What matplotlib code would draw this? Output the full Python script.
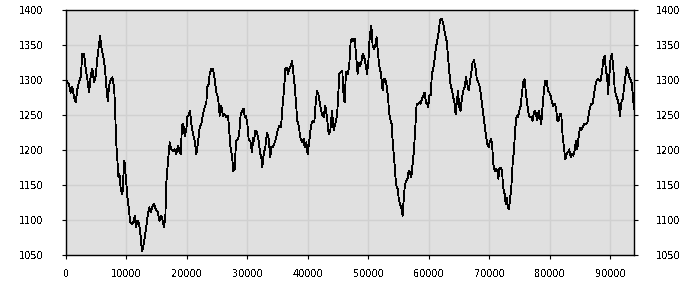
import numpy as np
import matplotlib
matplotlib.use("Agg")
import matplotlib.pyplot as plt

# values
x = [0, 220, 500, 770, 1050, 1320, 1600, 1880, 2150, 2430, 2700, 2980, 3260, 3530, 3810,
     4090, 4360, 4640, 4910, 5190, 5470, 5630, 5850, 6130, 6400, 6680, 6900, 7120, 7400,
     7670, 7950, 8110, 8280, 8500, 8670, 8830, 9050, 9330, 9490, 9660, 9880, 10160, 10430,
     10600, 10870, 11150, 11370, 11540, 11810, 12090, 12370, 12530, 12700, 12920, 13190,
     13470, 13750, 14020, 14300, 14570, 14850, 15130, 15400,
     15490, 15760, 16040, 16200, 16420, 16590, 16870, 17140, 17420, 17690, 17970, 18240,
     18520, 18790, 18960, 19180, 19400, 19620, 19900, 20060, 20340, 20500, 20720, 21000,
     21270, 21550, 21820, 22100, 22380, 22650, 22930, 23200, 23370, 23590, 23750, 24030,
     24300, 24580, 24860, 25130, 25410, 25680, 25960, 26230, 26510, 26780, 26950, 27170,
     27440, 27670, 27890, 28110, 28330, 28600, 28880, 29150, 29370, 29540, 29760, 29980,
     30200, 30480, 30750, 30970,
     31080, 31300, 31570, 31850, 32120, 32290, 32450, 32680, 32950, 33230, 33500, 33780,
     33940, 34160, 34440, 34710, 34990, 35260, 35540, 35820, 36040, 36260, 36530, 36700,
     36920, 37190, 37360, 37520, 37800, 38020, 38240, 38460, 38740, 39010, 39290, 39450,
     39730, 39950, 40220, 40500, 40770, 41050, 41220, 41490, 41770, 42040, 42320, 42590,
     42870, 43140, 43420, 43700, 43970, 44250, 44520, 44800, 44960, 45180, 45460, 45680,
     45900, 46060, 46280, 46500,
     46620, 46840, 47060, 47280, 47500, 47720, 47940, 48210, 48380, 48600, 48820, 49040,
     49320, 49590, 49760, 49980, 50140, 50310, 50470, 50690, 50910, 51130, 51350, 51570,
     51790, 52070, 52350, 52570, 52790, 53010, 53230, 53450, 53610, 53830, 54000, 54270,
     54550, 54830, 54990, 55210, 55430, 55650, 55820, 55980, 56200, 56480, 56640, 56860,
     57080, 57300, 57520, 57750, 57970, 58190, 58410, 58630, 58850, 59070, 59290, 59510,
     59730, 59890, 60060, 60280, 60500, 60720, 60940, 61160, 61380, 61600, 61820, 62040,
     62150, 62370, 62650, 62920, 63140, 63370, 63590, 63810, 64030, 64250, 64410, 64580,
     64800, 65020, 65240, 65460, 65680, 65900, 66120, 66340, 66560, 66780, 67000, 67220,
     67440, 67660, 67880, 68100, 68320, 68540, 68770, 68990, 69210, 69430, 69650, 69870,
     70090, 70310, 70470, 70640, 70860, 71080, 71300, 71470, 71630, 71850, 72070, 72290,
     72510, 72680, 72840, 73060, 73230, 73390, 73610, 73830, 74050, 74280, 74500, 74720,
     74940, 75160, 75380, 75600, 75820, 76040, 76260, 76480, 76700, 76920, 77140, 77360,
     77580,
     77690, 77910, 78130, 78350, 78570, 78790, 79010, 79230, 79450, 79670, 79900, 80120,
     80340, 80560, 80780, 81000, 81220, 81440, 81660, 81880, 82100, 82320, 82540, 82760,
     82980, 83200, 83420, 83640, 83860, 84080, 84300, 84520, 84740, 84960, 85180, 85400,
     85630, 85900, 86180, 86400, 86620, 86840, 87060, 87280, 87500, 87720, 87940, 88160,
     88380, 88600, 88820, 89040, 89260, 89480, 89590, 89810, 90030, 90250, 90470, 90690,
     90920, 91140, 91360, 91580, 91800, 92020, 92240, 92460, 92680, 92900, 93120, 93340,
     93560, 93730, 93900]

y = [1300, 1297, 1294, 1282, 1290, 1275, 1268, 1287, 1297, 1304, 1337, 1337, 1316, 1301, 1282,
     1306, 1316, 1297, 1306, 1332, 1351, 1363, 1347, 1335, 1320, 1290, 1270, 1292, 1301,
     1304, 1290, 1261, 1213, 1185, 1161, 1166, 1144, 1137, 1163, 1185, 1161, 1132, 1113,
     1097, 1094, 1097, 1106, 1090, 1099, 1094, 1075, 1056, 1059, 1070, 1085,
     1104, 1118, 1111, 1120, 1123, 1115, 1112, 1101,
     1099, 1106, 1097, 1090, 1104, 1154, 1185, 1211, 1201, 1199, 1201, 1194,
     1206, 1197, 1194, 1235, 1237, 1220, 1230, 1247, 1251, 1256, 1237, 1223,
     1213, 1194, 1211, 1232, 1237, 1251, 1261, 1268, 1290, 1294, 1309, 1316,
     1316, 1301, 1282, 1275, 1249, 1263, 1249, 1251, 1247, 1249, 1232, 1206,
     1192, 1170, 1173, 1213, 1215, 1220, 1251, 1256, 1259, 1247, 1249, 1237,
     1215, 1213, 1197, 1218,
     1213, 1228, 1225, 1213, 1194, 1190, 1175, 1194, 1204, 1225, 1216, 1190,
     1204, 1204, 1209, 1216, 1228, 1235, 1232, 1266, 1285, 1316, 1318, 1309,
     1316, 1320, 1328, 1316, 1292, 1266, 1242, 1235, 1218, 1211, 1216, 1204,
     1211, 1194, 1213, 1235, 1242, 1240, 1261, 1285, 1278, 1263, 1251, 1247,
     1263, 1247, 1223, 1228, 1256, 1228, 1237, 1249, 1270, 1309, 1311, 1313,
     1275, 1268, 1311, 1309,
     1309, 1323, 1356, 1359, 1356, 1359, 1337, 1309, 1325, 1320, 1325, 1337,
     1332, 1320, 1309, 1325, 1354, 1368, 1378, 1349, 1344, 1349, 1361, 1339,
     1320, 1309, 1285, 1301, 1301, 1292, 1275, 1251, 1244, 1237, 1213, 1185,
     1151, 1144, 1132, 1123, 1118, 1106, 1128, 1146, 1156, 1159, 1170, 1168,
     1161, 1180, 1199, 1232, 1266, 1266, 1268, 1266, 1273, 1278, 1282, 1268,
     1266, 1261, 1278, 1278, 1309, 1316, 1330, 1347, 1356, 1368, 1385, 1387,
     1387, 1380, 1366, 1356, 1335, 1311, 1292, 1285, 1275, 1266, 1251, 1266,
     1285, 1261, 1256, 1275, 1285, 1290, 1304, 1294, 1285, 1297, 1311, 1325,
     1328, 1320, 1304, 1297, 1294, 1282, 1266, 1251, 1235, 1220, 1209, 1204,
     1213, 1216, 1204, 1180, 1170, 1173, 1170, 1159, 1173, 1175, 1170, 1146,
     1137, 1123, 1132, 1118, 1115, 1128, 1146, 1180, 1199, 1232, 1249, 1247,
     1256, 1263, 1282, 1297, 1301, 1280, 1266, 1251, 1247, 1247, 1242, 1254,
     1256,
     1251, 1242, 1256, 1247, 1237, 1263, 1285, 1299, 1299, 1285, 1282, 1278,
     1268, 1263, 1266, 1261, 1242, 1242, 1251, 1251, 1220, 1204, 1187, 1194,
     1197, 1201, 1190, 1194, 1192, 1199, 1213, 1201, 1218, 1232, 1228, 1232,
     1237, 1237, 1239, 1249, 1261, 1266, 1266, 1278, 1292, 1299, 1301, 1299,
     1299, 1311, 1328, 1335, 1313, 1304, 1280, 1304, 1332, 1337, 1318, 1290,
     1278, 1273, 1266, 1249, 1268, 1273, 1287, 1304, 1318, 1313, 1304, 1301,
     1294, 1275, 1258]

x_ticks = [0, 10000, 20000, 30000, 40000, 50000, 60000, 70000, 80000, 90000]
y_ticks = [1050, 1100, 1150, 1200, 1250, 1300, 1350, 1400]

plt.rcParams['font.family'] = ['DejaVu Sans']
plt.rcParams['font.size'] = 7
plt.rcParams['text.antialiased'] = False

fig = plt.figure(figsize=(7, 3), dpi=100)
ax = fig.add_axes([66 / 700, 45 / 300, 568 / 700, 245 / 300])
ax.set_facecolor('#e0e0e0')

ax.plot(x, y, color='black', lw=0.6, antialiased=False)

ax.set_xlim(0, x[-1])
ax.set_ylim(1050, 1400)
ax.set_xticks(x_ticks)
ax.set_yticks(y_ticks)
ax.grid(True, color='#d0d0d0', lw=1)
ax.set_axisbelow(True)

for s in ax.spines.values():
    s.set_color('black')
    s.set_linewidth(1)

ax.tick_params(axis='x', direction='out', length=3, pad=7, colors='black')
ax.tick_params(axis='y', direction='out', length=3, pad=13, colors='black',
               left=True, right=True, labelleft=True, labelright=True)

fig.savefig('out.png', dpi=100)
